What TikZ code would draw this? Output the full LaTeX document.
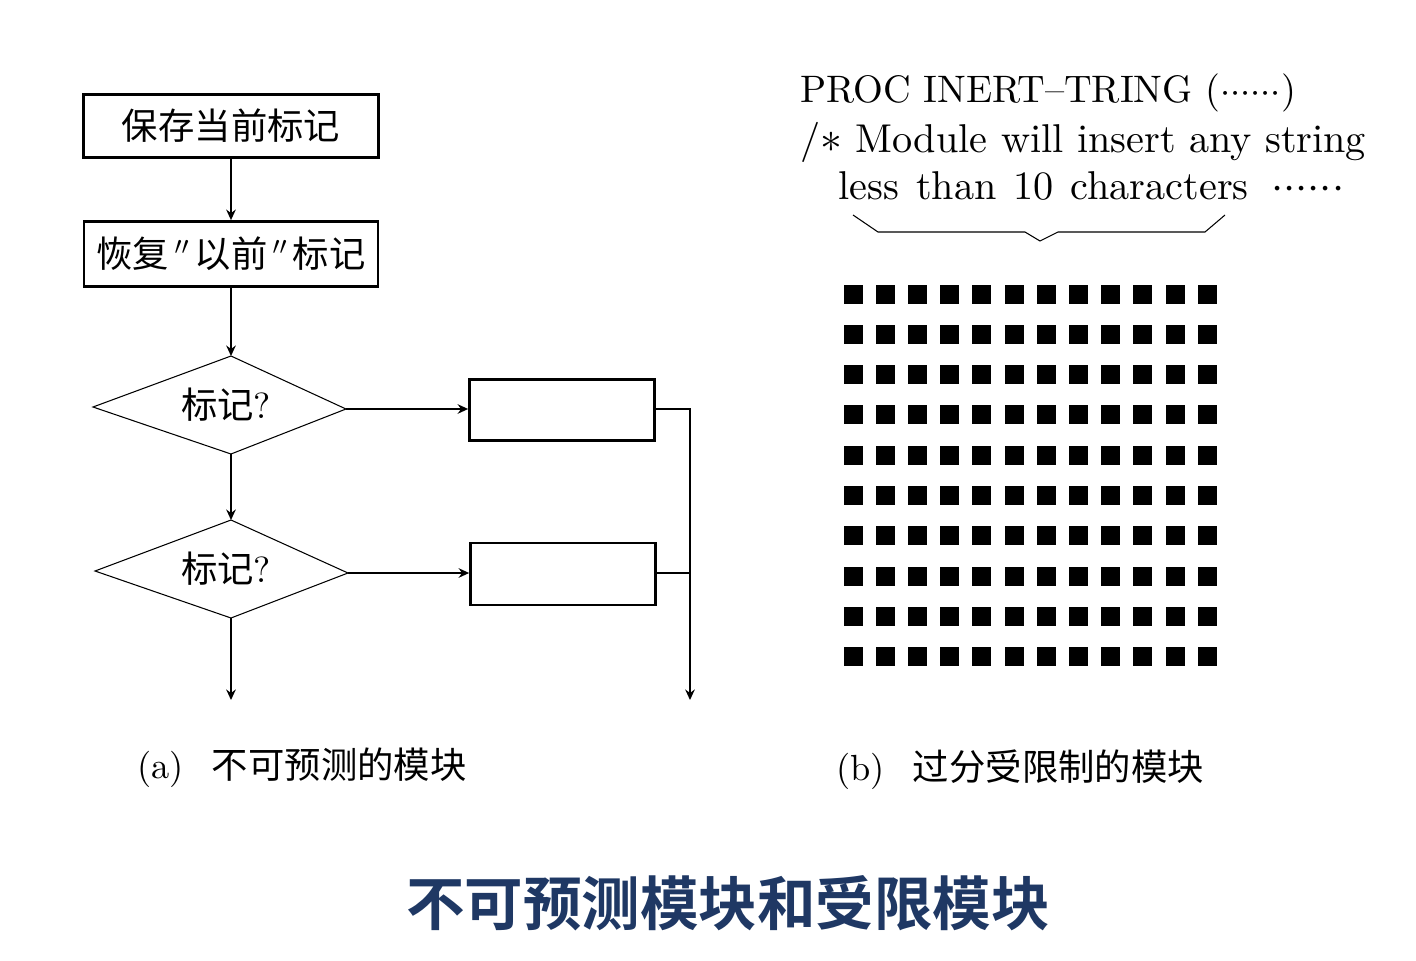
\documentclass[tikz,border=0pt]{standalone}
\usepackage{fontspec}
\usepackage{tikz}
\usetikzlibrary{positioning, arrows.meta}
\newfontfamily\cjk[BoldFont={* Bold}]{Noto Sans CJK SC}
\newfontfamily\cmr[Ligatures=TeX, BoldFont=lmroman10-bold.otf]{lmroman10-regular.otf}
\definecolor{titleblue}{RGB}{31,56,100}
\tikzset{
  box/.style={draw, line width=1.6pt, inner sep=0pt,
    font=\fontsize{20.7pt}{25pt}\selectfont\cjk},
  label/.style={inner sep=0pt, font=\fontsize{20.7pt}{25pt}\selectfont\cjk},
  flow/.style={line width=0.8pt, -{Stealth[length=6pt,width=5.5pt,inset=2pt]}},
  link/.style={line width=0.8pt},
  edge/.style={line width=0.6pt},
  code/.style={anchor=west, inner sep=0pt, font=\fontsize{22.9pt}{27pt}\selectfont\cmr},
  caption/.style={anchor=west, inner sep=0pt, font=\fontsize{20.7pt}{25pt}\selectfont\cmr}}
\newcommand{\dotrow}{${\cdot}{\cdot}{\cdot}{\cdot}{\cdot}{\cdot}$}

\begin{document}
\begin{tikzpicture}[x=0.02cm, y=-0.02cm]
\useasboundingbox (0,0) rectangle (1416,960);
% (a) flow chart
\node[box, minimum width=5.9cm, minimum height=1.26cm] (save) at (231,126) {保存当前标记};
\node[box, minimum width=5.88cm, minimum height=1.3cm] (restore) at (231,254)
  {恢复\hspace{3pt}\cmr$^{\prime\prime}$\hspace{3pt}\cjk 以前\hspace{3pt}\cmr$^{\prime\prime}$\hspace{3pt}\cjk 标记};
\coordinate (q1n) at (231,356);
\coordinate (q1e) at (346,409);
\coordinate (q1s) at (231,454);
\coordinate (q1w) at (93,407);
\coordinate (q2n) at (231,520);
\coordinate (q2e) at (348,573);
\coordinate (q2s) at (231,618);
\coordinate (q2w) at (95,571);
\draw [edge] (q1n) -- (q1e) -- (q1s) -- (q1w) -- cycle;
\draw [edge] (q2n) -- (q2e) -- (q2s) -- (q2w) -- cycle;
\node[label] (q1) at (226,405) {标记\cmr ?};
\node[label] (q2) at (226,569) {标记\cmr ?};
\node[box, minimum width=3.7cm, minimum height=1.22cm] (act1) at (562,410) {};
\node[box, minimum width=3.7cm, minimum height=1.24cm] (act2) at (563,574) {};
\coordinate (out1) at (231,700);
\coordinate (out2) at (690,700);
\draw [flow] (save) -- (restore);
\draw [flow] (restore) -- (q1n);
\draw [flow] (q1s) -- (q2n);
\draw [flow] (q2s) -- (out1);
\draw [flow] (q1e) -- (q1e -| act1.west);
\draw [flow] (q2e) -- (q2e -| act2.west);
\draw [flow] (act1.east |- q1e) -| (out2);
\draw [link] (act2.east |- q2e) -- (q2e -| out2);
\node[caption] (capa) at (137,768) {(a)\hspace{16pt}{\cjk 不可预测的模块}};
% (b) code and blocks
\node[code, font=\fontsize{21.8pt}{26pt}\selectfont\cmr] (line1) at (800,93) {PROC INERT--TRING (\dotrow)};
\node[code] (line2) at (800,142) {/$\ast$ Module will insert any string};
\node[code] (line3) at (838,186) {less\hspace{2pt} than\hspace{2pt} 10\hspace{2pt} characters\hspace{13pt}\dotrow};
\draw [edge] (853,215) -- (878,232) -- (1025,232) -- (1040,241)
  -- (1058,232) -- (1205,232) -- (1225,215);
\foreach \r in {0,...,9}
  \foreach \c in {0,...,11}
    \fill ({853+\c*32.2-9.5},{294+\r*40.3-9.5}) rectangle +(19,19);
\node[caption] (capb) at (836,770) {(b)\hspace{16pt}{\cjk 过分受限制的模块}};
\node[font=\fontsize{33.3pt}{38pt}\selectfont\cjk\bfseries, text=titleblue] (title) at (728,903) {不可预测模块和受限模块};
\end{tikzpicture}
\end{document}
